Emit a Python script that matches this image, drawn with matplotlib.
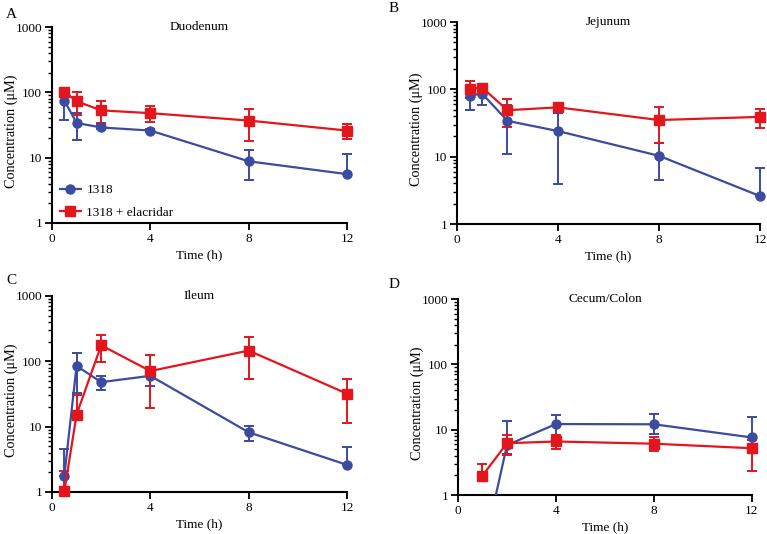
import matplotlib
matplotlib.use('Agg')
import matplotlib.pyplot as plt
from matplotlib.ticker import LogLocator, FixedLocator, FixedFormatter, NullFormatter

plt.rcParams['font.family'] = ['Liberation Serif', 'DejaVu Serif']
plt.rcParams['font.size'] = 9

BLUE = '#3b4ba0'
RED = '#e3151d'

# sampling times (h)
TIMES = [0.5, 1, 2, 4, 8, 12]
TIMES_COLON = [1, 2, 4, 8, 12]

# Duodenum
duo_1318 = [75, 34, 29, 26, 8.8, 5.6]
duo_1318_lo = [38, 18.5, 27, 24.5, 4.5, 5.6]
duo_1318_hi = [103, 49, 32, 27.5, 13, 11.5]
duo_ela = [103, 73, 53, 48, 37, 26]
duo_ela_lo = [95, 45, 34, 35, 18, 19.5]
duo_ela_hi = [110, 100, 73, 61, 55, 32.5]

# Jejunum
jej_1318 = [81, 86, 34, 24, 10.3, 2.6]
jej_1318_lo = [50, 58, 11, 3.9, 4.5, 2.6]
jej_1318_hi = [111, 111, 58, 44, 15.8, 6.7]
jej_ela = [102, 106, 49, 54, 35, 39]
jej_ela_lo = [75, 95, 27.5, 51, 16, 27]
jej_ela_hi = [135, 115, 71, 58, 54, 50.5]

# Ileum
ile_1318 = [1.76, 85, 48, 60, 8.2, 2.6]
ile_1318_lo = [1.76, 33, 36, 42.5, 6.1, 2.6]
ile_1318_hi = [4.6, 136, 60, 78, 10.4, 4.9]
ile_ela = [1.02, 15.3, 176, 71, 146, 32]
ile_ela_lo = [1.0, 15.3, 97, 19.3, 53, 11.2]
ile_ela_hi = [2.1, 31, 253, 125, 239, 53]

# Cecum/Colon (1318 at 1 h lies below the axis floor)
col_1318 = [0.12, 5.8, 12.2, 12.1, 7.6]
col_1318_lo = [0.12, 4.2, 8.0, 8.6, 7.6]
col_1318_hi = [0.12, 13.6, 16.6, 17.2, 15.6]
col_ela = [1.98, 6.2, 6.6, 6.1, 5.2]
col_ela_lo = [1.8, 4.05, 5.0, 4.7, 2.3]
col_ela_hi = [3.0, 8.3, 8.4, 7.6, 6.9]

PANELS = [
    ('A', 'Duodenum', TIMES, duo_1318, duo_1318_lo, duo_1318_hi,
     TIMES, duo_ela, duo_ela_lo, duo_ela_hi,
     [0.0678, 0.5824, 0.3846, 0.3670], (6, 14)),
    ('B', 'Jejunum', TIMES, jej_1318, jej_1318_lo, jej_1318_hi,
     TIMES, jej_ela, jej_ela_lo, jej_ela_hi,
     [0.5958, 0.5805, 0.3951, 0.3783], (389, 9)),
    ('C', 'Ileum', TIMES, ile_1318, ile_1318_lo, ile_1318_hi,
     TIMES, ile_ela, ile_ela_lo, ile_ela_hi,
     [0.0678, 0.0787, 0.3846, 0.3670], (6, 281)),
    ('D', 'Cecum/Colon', TIMES_COLON, col_1318, col_1318_lo, col_1318_hi,
     TIMES_COLON, col_ela, col_ela_lo, col_ela_hi,
     [0.5971, 0.0730, 0.3833, 0.3670], (389, 284)),
]


def draw_series(ax, x, y, lo, hi, color, marker, label):
    yerr = [[v - l for v, l in zip(y, lo)], [h - v for v, h in zip(y, hi)]]
    cont = ax.errorbar(x, y, yerr=yerr, color=color, marker=marker, markersize=6.5,
                       linewidth=1.6, elinewidth=1.4, capsize=3.5, capthick=1.4,
                       label=label, zorder=3)
    # let end markers / bars at 12 h spill over the axes edge
    for art in cont.get_children():
        art.set_clip_on(False)
    return cont


fig = plt.figure(figsize=(7.67, 5.34), dpi=100)

for (letter, title, xb, yb, lob, hib, xr, yr, lor, hir, rect, lpos) in PANELS:
    ax = fig.add_axes(rect)
    if letter == 'D':
        # first colon point is below 1 uM: only its connecting segment shows, clipped
        ax.plot(xb[:2], yb[:2], color=BLUE, linewidth=1.6, zorder=3)
        cb = draw_series(ax, xb[1:], yb[1:], lob[1:], hib[1:], BLUE, 'o', '1318')
    else:
        cb = draw_series(ax, xb, yb, lob, hib, BLUE, 'o', '1318')
    cr = draw_series(ax, xr, yr, lor, hir, RED, 's', '1318 + elacridar')
    ax.set_yscale('log')
    ax.set_ylim(1, 1000)
    ax.set_xlim(0, 12)
    ax.set_xticks([0, 4, 8, 12])
    ax.yaxis.set_major_locator(FixedLocator([1, 10, 100, 1000]))
    ax.yaxis.set_major_formatter(FixedFormatter(['1', '10', '100', '1000']))
    ax.yaxis.set_minor_locator(LogLocator(base=10, subs=range(2, 10)))
    ax.yaxis.set_minor_formatter(NullFormatter())
    for side in ('top', 'right'):
        ax.spines[side].set_visible(False)
    for side in ('left', 'bottom'):
        ax.spines[side].set_linewidth(1.5)
    ax.tick_params(which='major', length=5, width=1.3, labelsize=9.5, pad=2)
    ax.tick_params(which='minor', length=3, width=1.0)
    ax.set_xlabel('Time (h)', fontsize=9.5, labelpad=3)
    ax.set_ylabel('Concentration (μM)', fontsize=10.3, labelpad=-1.5)
    ax.yaxis.label.set_y(0.47)
    ax.set_title(title, fontsize=9.5, y=1.0, pad=-2)
    fig.text(lpos[0] / 767, 1 - lpos[1] / 534, letter, fontsize=11,
             ha='left', va='center')
    if letter == 'A':
        ax.legend(handles=[cb[0], cr[0]], labels=['1318', '1318 + elacridar'],
                  loc='lower left', bbox_to_anchor=(0.0, -0.02), frameon=False,
                  fontsize=9.5, handlelength=1.6, handletextpad=0.4,
                  borderaxespad=0.2, labelspacing=0.8)

fig.savefig('out.png', dpi=100)
